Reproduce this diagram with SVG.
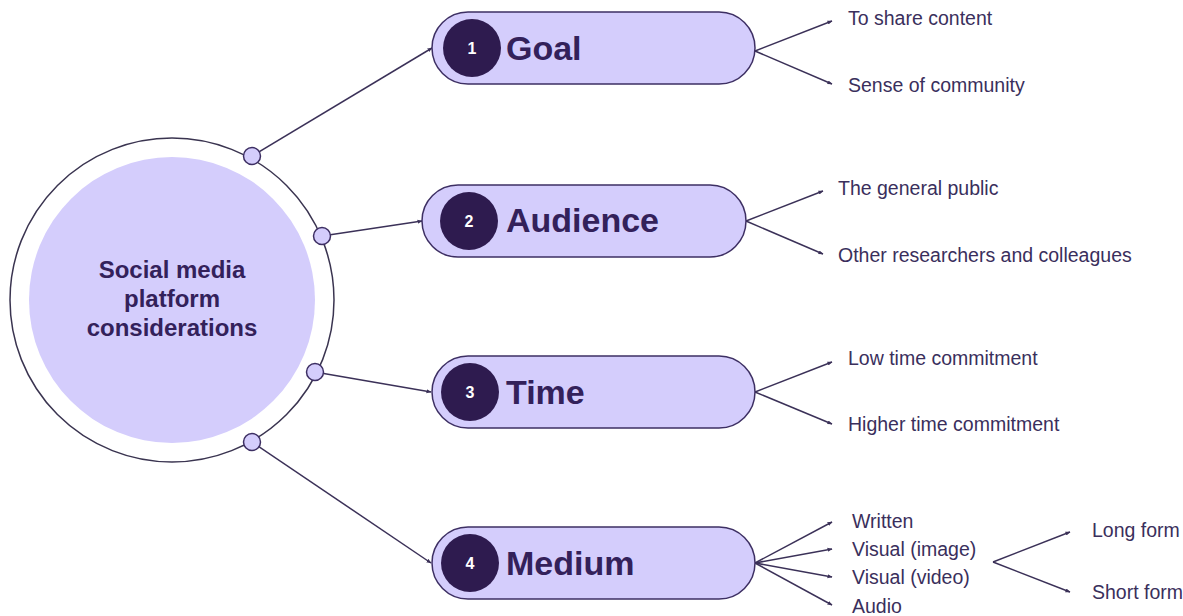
<svg xmlns="http://www.w3.org/2000/svg" width="1183" height="616" viewBox="0 0 1183 616">
<style>
.pill{fill:#d4cdfc;stroke:#3d2f63;stroke-width:1.5}
.num{fill:#2e1b4f}
.numt{fill:#ffffff;font-family:"Liberation Sans",Arial,sans-serif;font-weight:bold;font-size:16px;text-anchor:middle}
.title{fill:#33215a;font-family:"Liberation Sans",Arial,sans-serif;font-weight:bold;font-size:34px}
.lbl{fill:#3a2f5c;font-family:"Liberation Sans",Arial,sans-serif;font-size:19.5px}
.ctr{fill:#33215a;font-family:"Liberation Sans",Arial,sans-serif;font-weight:bold;font-size:24px;text-anchor:middle}
.dot{fill:#d4cdfc;stroke:#3d2f63;stroke-width:1.5}
.ln{stroke:#3b3158;stroke-width:1.5;fill:none;marker-end:url(#ah)}
</style>
<defs>
<marker id="ah" viewBox="0 0 10 10" refX="9" refY="5" markerWidth="5" markerHeight="5" orient="auto" markerUnits="userSpaceOnUse">
<path d="M0,1 L10,5 L0,9 z" fill="#3b3158"/>
</marker>
</defs>
<rect width="1183" height="616" fill="#ffffff"/>
<g id="connectors">
<line class="ln" x1="252" y1="156" x2="432" y2="48"/>
<line class="ln" x1="322" y1="236" x2="422" y2="221"/>
<line class="ln" x1="315" y1="372" x2="431" y2="392"/>
<line class="ln" x1="252" y1="442" x2="431" y2="563"/>
<line class="ln" x1="755" y1="51" x2="832" y2="21"/>
<line class="ln" x1="755" y1="51" x2="832" y2="84"/>
<line class="ln" x1="746" y1="221" x2="823" y2="191"/>
<line class="ln" x1="746" y1="221" x2="823" y2="254"/>
<line class="ln" x1="755" y1="392" x2="832" y2="362"/>
<line class="ln" x1="755" y1="392" x2="832" y2="424"/>
<line class="ln" x1="755" y1="563" x2="832" y2="522"/>
<line class="ln" x1="755" y1="563" x2="832" y2="549"/>
<line class="ln" x1="755" y1="563" x2="832" y2="577"/>
<line class="ln" x1="755" y1="563" x2="832" y2="605"/>
<line class="ln" x1="993" y1="562" x2="1070" y2="532"/>
<line class="ln" x1="993" y1="562" x2="1070" y2="592"/>
</g>
<g id="center">
<circle cx="172" cy="300" r="162" fill="#ffffff" stroke="#3a3450" stroke-width="1.5"/>
<circle cx="172" cy="300" r="143" fill="#d4cdfc"/>
<text class="ctr" x="172" y="278">Social media</text>
<text class="ctr" x="172" y="307">platform</text>
<text class="ctr" x="172" y="336">considerations</text>
</g>
<g id="ports">
<circle class="dot" cx="252" cy="156" r="8.5"/>
<circle class="dot" cx="322" cy="236" r="8.5"/>
<circle class="dot" cx="315" cy="372" r="8.5"/>
<circle class="dot" cx="252" cy="442" r="8.5"/>
</g>
<g id="goal">
<rect class="pill" x="432" y="12" width="323" height="72" rx="36"/>
<circle class="num" cx="472" cy="48" r="29"/>
<text class="numt" x="472" y="54">1</text>
<text class="title" x="506" y="60">Goal</text>
</g>
<g id="audience">
<rect class="pill" x="422" y="185" width="324" height="72" rx="36"/>
<circle class="num" cx="469" cy="221" r="29"/>
<text class="numt" x="469" y="227">2</text>
<text class="title" x="506" y="232">Audience</text>
</g>
<g id="time">
<rect class="pill" x="432" y="356" width="323" height="72" rx="36"/>
<circle class="num" cx="470" cy="392" r="29"/>
<text class="numt" x="470" y="398">3</text>
<text class="title" x="506" y="404">Time</text>
</g>
<g id="medium">
<rect class="pill" x="432" y="527" width="323" height="72" rx="36"/>
<circle class="num" cx="470" cy="563" r="29"/>
<text class="numt" x="470" y="569">4</text>
<text class="title" x="506" y="575">Medium</text>
</g>
<g id="labels">
<text class="lbl" x="848" y="25">To share content</text>
<text class="lbl" x="848" y="92">Sense of community</text>
<text class="lbl" x="838" y="195">The general public</text>
<text class="lbl" x="838" y="262">Other researchers and colleagues</text>
<text class="lbl" x="848" y="365">Low time commitment</text>
<text class="lbl" x="848" y="431">Higher time commitment</text>
<text class="lbl" x="852" y="528">Written</text>
<text class="lbl" x="852" y="556">Visual (image)</text>
<text class="lbl" x="852" y="584">Visual (video)</text>
<text class="lbl" x="852" y="613">Audio</text>
<text class="lbl" x="1092" y="537">Long form</text>
<text class="lbl" x="1092" y="599">Short form</text>
</g>
</svg>
